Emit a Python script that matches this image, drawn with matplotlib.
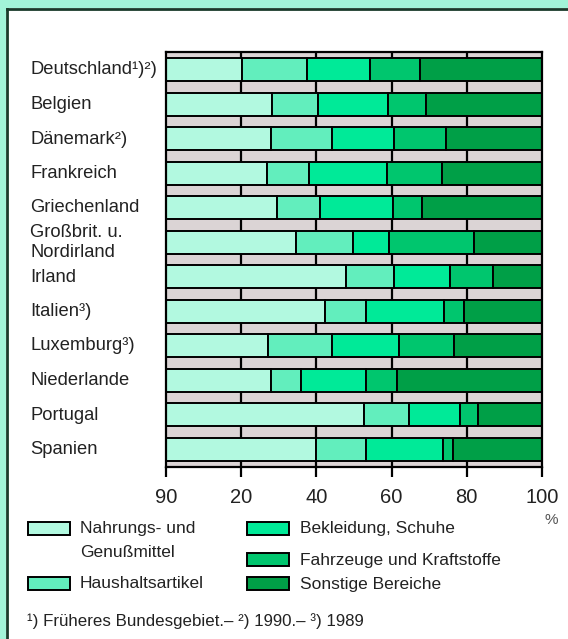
import matplotlib.pyplot as plt
from matplotlib.patches import Rectangle

# =========================
# DATA (shares in %)
# =========================
countries = [
    "Deutschland¹)²)", "Belgien", "Dänemark²)", "Frankreich", "Griechenland",
    "Großbrit. u.\nNordirland", "Irland", "Italien³)", "Luxemburg³)",
    "Niederlande", "Portugal", "Spanien",
]
nahrung = [20.2, 28.1, 27.8, 26.8, 29.6, 34.6, 47.9, 42.3, 27.2, 27.8, 52.7, 39.9]
haushalt = [17.3, 12.4, 16.3, 11.3, 11.4, 15.1, 12.7, 10.8, 17.0, 8.1, 11.9, 13.2]
bekleidung = [16.8, 18.5, 16.6, 20.6, 19.5, 9.7, 14.9, 20.8, 17.9, 17.2, 13.6, 20.7]
fahrzeuge = [13.3, 10.1, 13.8, 14.8, 7.7, 22.5, 11.5, 5.4, 14.5, 8.4, 4.9, 2.6]
sonstige = [32.4, 30.9, 25.5, 26.5, 31.8, 18.1, 13.0, 20.7, 23.4, 38.5, 16.9, 23.6]

series_names = ["Nahrungs- und\nGenußmittel", "Haushaltsartikel", "Bekleidung, Schuhe",
                "Fahrzeuge und Kraftstoffe", "Sonstige Bereiche"]
tick_vals = [0, 20, 40, 60, 80, 100]
tick_labels = ["90", "20", "40", "60", "80", "100"]
footnote = "¹) Früheres Bundesgebiet.– ²) 1990.– ³) 1989"

COLORS = ["#b2f9e0", "#62eebd", "#00ea98", "#00c66e", "#009f47"]
GRAY = "#dbd4d5"
MINT = "#a2f4d8"
TXT = "#222222"

W, H = 568, 639
plt.rcParams["font.family"] = ["Liberation Sans", "DejaVu Sans"]

fig = plt.figure(figsize=(W / 100, H / 100), dpi=100)
fig.patch.set_facecolor("white")


def fx(px):
    return px / W


def fy(py):
    return 1 - py / H


# mint frame on top and left, dark inner border
fig.add_artist(Rectangle((0, fy(8)), 1, 8 / H, transform=fig.transFigure,
                         facecolor=MINT, edgecolor="none"))
fig.add_artist(Rectangle((0, 0), fx(6), 1, transform=fig.transFigure,
                         facecolor=MINT, edgecolor="none"))
fig.add_artist(plt.Line2D([fx(6.5), 1], [fy(8.5), fy(8.5)], transform=fig.transFigure,
                          color="#1a3a2a", lw=2))
fig.add_artist(plt.Line2D([fx(6.5), fx(6.5)], [0, fy(8.5)], transform=fig.transFigure,
                          color="#1a3a2a", lw=2))

# plot area
ax = fig.add_axes([fx(166), fy(467), fx(542) - fx(166), (467 - 52) / H])
ax.set_facecolor(GRAY)

n = len(countries)
bar_h = 23 / 34.5
pad = 6 / 34.5
ax.set_xlim(0, 100)
ax.set_ylim(n - 1 + bar_h / 2 + pad, -bar_h / 2 - pad)

for v in tick_vals[1:-1]:
    ax.axvline(v, color="black", lw=1.6, zorder=1)

ypos = list(range(n))
left = [0] * n
for vals, col in zip([nahrung, haushalt, bekleidung, fahrzeuge, sonstige], COLORS):
    ax.barh(ypos, vals, left=left, height=bar_h, color=col, edgecolor="black",
            linewidth=1.4, zorder=2)
    left = [a + b for a, b in zip(left, vals)]

for s in ax.spines.values():
    s.set_linewidth(1.6)
    s.set_color("black")

ax.set_yticks([])
ax.set_xticks(tick_vals)
ax.set_xticklabels(tick_labels, fontsize=14.5, color=TXT)
ax.tick_params(axis="x", length=7, width=1.6, pad=8, color="black")

for i, name in enumerate(countries):
    y_fig = fy(70 + i * 34.5)
    fig.text(fx(30), y_fig, name, fontsize=13.2, color=TXT, ha="left", va="center",
             linespacing=1.3)

fig.text(fx(558), fy(520), "%", fontsize=11, color="#555555", ha="right", va="center")

# legend
leg_pos = [(28, 522, 80, 528), (28, 577, 80, 584), (247, 522, 300, 528),
           (247, 553, 300, 560), (247, 577, 300, 584)]
for (px, py, tx, ty), col, name in zip(leg_pos, COLORS, series_names):
    fig.add_artist(Rectangle((fx(px), fy(py + 13)), 42 / W, 13 / H, transform=fig.transFigure,
                             facecolor=col, edgecolor="black", linewidth=1.4))
    if "\n" in name:
        fig.text(fx(tx), fy(ty - 7), name, fontsize=12.5, color=TXT, ha="left", va="top",
                 linespacing=1.75)
    else:
        fig.text(fx(tx), fy(ty), name, fontsize=12.5, color=TXT, ha="left", va="center")

fig.text(fx(27), fy(621), footnote, fontsize=12.2, color=TXT, ha="left", va="center")

plt.savefig("out.png", dpi=100)
plt.close()
